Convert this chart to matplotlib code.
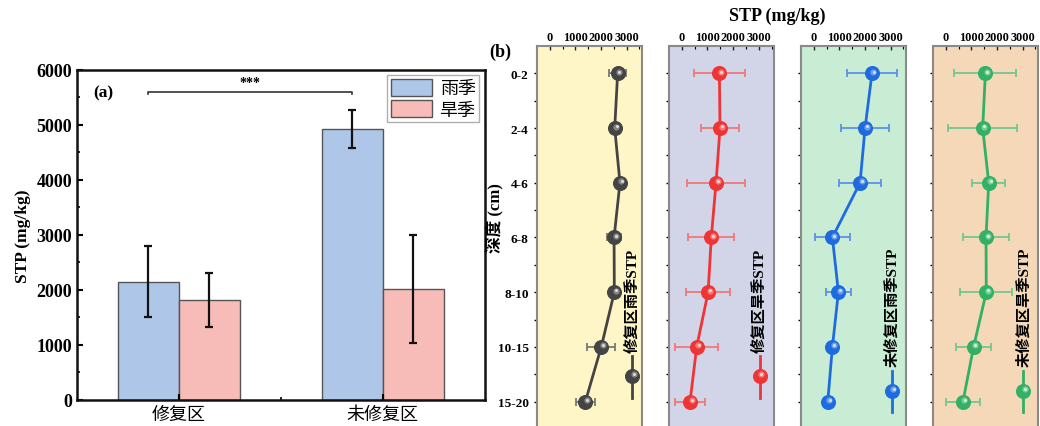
import matplotlib
matplotlib.use("Agg")
import matplotlib.pyplot as plt
from matplotlib.transforms import offset_copy, blended_transform_factory
import numpy as np

plt.rcParams['font.family'] = ['Liberation Serif', 'Noto Sans CJK SC']
plt.rcParams['axes.unicode_minus'] = False

# ---- (a) mean STP by zone and season ----
zones = ['修复区', '未修复区']
seasons = ['雨季', '旱季']
rain_mean = [2150, 4920]
rain_err = [650, 345]
dry_mean = [1820, 2010]
dry_err = [495, 980]
bar_colors = ['#AEC6E8', '#F7BBB8']

# ---- (b) STP depth profiles ----
depths = ['0-2', '2-4', '4-6', '6-8', '8-10', '10-15', '15-20']
restored_rain = [2650, 2535, 2740, 2510, 2520, 2010, 1390]
restored_rain_err = [330, 90, 90, 280, 90, 550, 375]
restored_dry = [1465, 1490, 1335, 1150, 1025, 580, 320]
restored_dry_err = [1000, 750, 1120, 900, 865, 845, 570]
unrestored_rain = [2270, 2000, 1805, 725, 960, 725, 545]
unrestored_rain_err = [965, 945, 805, 670, 490, 120, 120]
unrestored_dry = [1545, 1440, 1675, 1570, 1580, 1085, 670]
unrestored_dry_err = [1210, 1350, 640, 890, 1020, 680, 650]
profile_names = ['修复区雨季STP', '修复区旱季STP', '未修复区雨季STP', '未修复区旱季STP']
xticks_b = [0, 1000, 2000, 3000]

fig = plt.figure(figsize=(10.4, 4.27), dpi=100)

# ---------------- panel (a) ----------------
ax = fig.add_axes([0.074, 0.061, 0.392, 0.773])
x = np.arange(len(zones))
w = 0.3
ekw = dict(ecolor='#111111', elinewidth=1.6, capsize=3, capthick=1.6)
ax.bar(x - w / 2, rain_mean, w, yerr=rain_err, color=bar_colors[0],
       edgecolor='#555555', linewidth=1.0, label=seasons[0], error_kw=ekw)
ax.bar(x + w / 2, dry_mean, w, yerr=dry_err, color=bar_colors[1],
       edgecolor='#555555', linewidth=1.0, label=seasons[1], error_kw=ekw)
ax.set_xlim(-0.5, 1.5)
ax.set_ylim(0, 6000)
ax.set_xticks(x)
ax.set_xticklabels(zones, fontsize=13)
ax.set_xticks([0.5], minor=True)
ax.set_yticks(range(0, 6001, 1000))
ax.set_yticks(range(500, 6000, 1000), minor=True)
ax.tick_params(axis='y', which='major', labelsize=13, direction='in', length=4, width=1.5)
ax.tick_params(axis='y', which='minor', direction='in', length=2.5, width=1.2)
ax.tick_params(axis='x', which='major', direction='in', length=4, width=1.5, pad=4)
ax.tick_params(axis='x', which='minor', direction='in', length=2.5, width=1.2)
for lab in ax.get_yticklabels():
    lab.set_fontweight('bold')
for s in ax.spines.values():
    s.set_linewidth(1.8)
    s.set_color('#111111')
ax.set_ylabel('STP (mg/kg)', fontsize=12.5, fontweight='bold', labelpad=4)
ax.text(0.065, 0.955, '(a)', transform=ax.transAxes, fontsize=12.5,
        fontweight='bold', va='top', ha='center')

# significance bracket between the two rainy-season bars
y_sig = 5600
ax.plot([x[0] - w / 2, x[0] - w / 2, x[1] - w / 2, x[1] - w / 2],
        [y_sig - 40, y_sig, y_sig, y_sig - 40], color='#333333', lw=1.2)
ax.text((x[0] + x[1]) / 2 - w / 2, y_sig + 60, '***', ha='center', va='bottom',
        fontsize=10, fontweight='bold')

leg = ax.legend(loc='upper right', fontsize=13, handlelength=2.3, handleheight=1.05,
                borderaxespad=0.3, borderpad=0.2, labelspacing=0.15,
                handletextpad=0.4, fancybox=False, framealpha=1, edgecolor='#B0B0B0')
leg.get_frame().set_linewidth(1.0)

# ---------------- panel (b) ----------------
series = [(restored_rain, restored_rain_err), (restored_dry, restored_dry_err),
          (unrestored_rain, unrestored_rain_err), (unrestored_dry, unrestored_dry_err)]
bg_colors = ['#FFF6C8', '#D2D4E8', '#C8EDD4', '#F4D8B8']
line_colors = ['#444444', '#EE3535', '#1E6BE0', '#32B064']
err_colors = ['#777777', '#F07878', '#5A92E8', '#72C890']
lefts = [0.5163, 0.6433, 0.7702, 0.8971]
leg_x = [0.905, 0.862, 0.864, 0.857]
leg_mark_y = [5.53, 5.53, 5.80, 5.80]
leg_span = [(5.16, 5.93), (5.16, 5.93), (5.44, 6.19), (5.44, 6.19)]
leg_text_y = [5.09, 5.09, 5.35, 5.35]


def sphere(axis, xs, ys, color, transform):
    """Shaded ball marker: solid disc plus a soft highlight."""
    axis.plot(xs, ys, 'o', ms=10, mfc=color, mec=color, mew=0.8,
              transform=transform, zorder=4, clip_on=False)
    hl = offset_copy(transform, fig=fig, x=1.5, y=1.5, units='dots')
    axis.plot(xs, ys, 'o', ms=4.5, mfc='white', mec='none', alpha=0.35,
              transform=hl, zorder=5, clip_on=False)
    hl2 = offset_copy(transform, fig=fig, x=1.8, y=1.8, units='dots')
    axis.plot(xs, ys, 'o', ms=2.2, mfc='white', mec='none', alpha=0.7,
              transform=hl2, zorder=6, clip_on=False)


yk = np.arange(len(depths))
for i, (vals, errs) in enumerate(series):
    a = fig.add_axes([lefts[i], -0.007, 0.101, 0.897])
    a.set_facecolor(bg_colors[i])
    a.errorbar(vals, yk, xerr=errs, fmt='none', ecolor=err_colors[i],
               elinewidth=1.3, capsize=3, capthick=1.3, zorder=2)
    a.plot(vals, yk, '-', color=line_colors[i], lw=2.0, zorder=3)
    sphere(a, vals, yk, line_colors[i], a.transData)

    # legend drawn vertically inside the panel
    bt = blended_transform_factory(a.transAxes, a.transData)
    a.plot([leg_x[i], leg_x[i]], list(leg_span[i]), '-', color=line_colors[i],
           lw=2.0, transform=bt, zorder=3)
    sphere(a, [leg_x[i]], [leg_mark_y[i]], line_colors[i], bt)
    a.text(leg_x[i] + 0.01, leg_text_y[i], profile_names[i], transform=bt,
           rotation=90, ha='center', va='bottom', fontsize=11, fontweight='bold')

    a.set_xlim(-500, 3600)
    a.set_ylim(6.5, -0.5)
    a.xaxis.tick_top()
    a.set_xticks(xticks_b)
    a.set_xticklabels([str(v) for v in xticks_b], fontsize=8.8, fontweight='bold')
    a.set_xticks([500, 1500, 2500, 3500], minor=True)
    a.set_yticks(yk)
    a.set_yticks(yk[:-1] + 0.5, minor=True)
    a.tick_params(axis='x', which='major', direction='in', length=3, width=1, pad=2)
    a.tick_params(axis='x', which='minor', direction='in', length=2, width=0.8)
    a.tick_params(axis='y', which='both', direction='out', length=2.5, width=1)
    if i == 0:
        a.set_yticklabels(depths, fontsize=9.5, fontweight='bold')
    else:
        a.set_yticklabels([])
    a.tick_params(axis='x', colors='#222222', labelcolor='black')
    for s in a.spines.values():
        s.set_linewidth(1.5)
        s.set_color('#8A8A8A')

fig.text(0.476, 0.489, '深度 (cm)', rotation=90, ha='center', va='center',
         fontsize=12, fontweight='bold')
fig.text(0.747, 0.962, 'STP (mg/kg)', ha='center', va='center',
         fontsize=13, fontweight='bold')
fig.text(0.481, 0.878, '(b)', ha='center', va='center', fontsize=13,
         fontweight='bold')

fig.savefig('out.png', dpi=100)
